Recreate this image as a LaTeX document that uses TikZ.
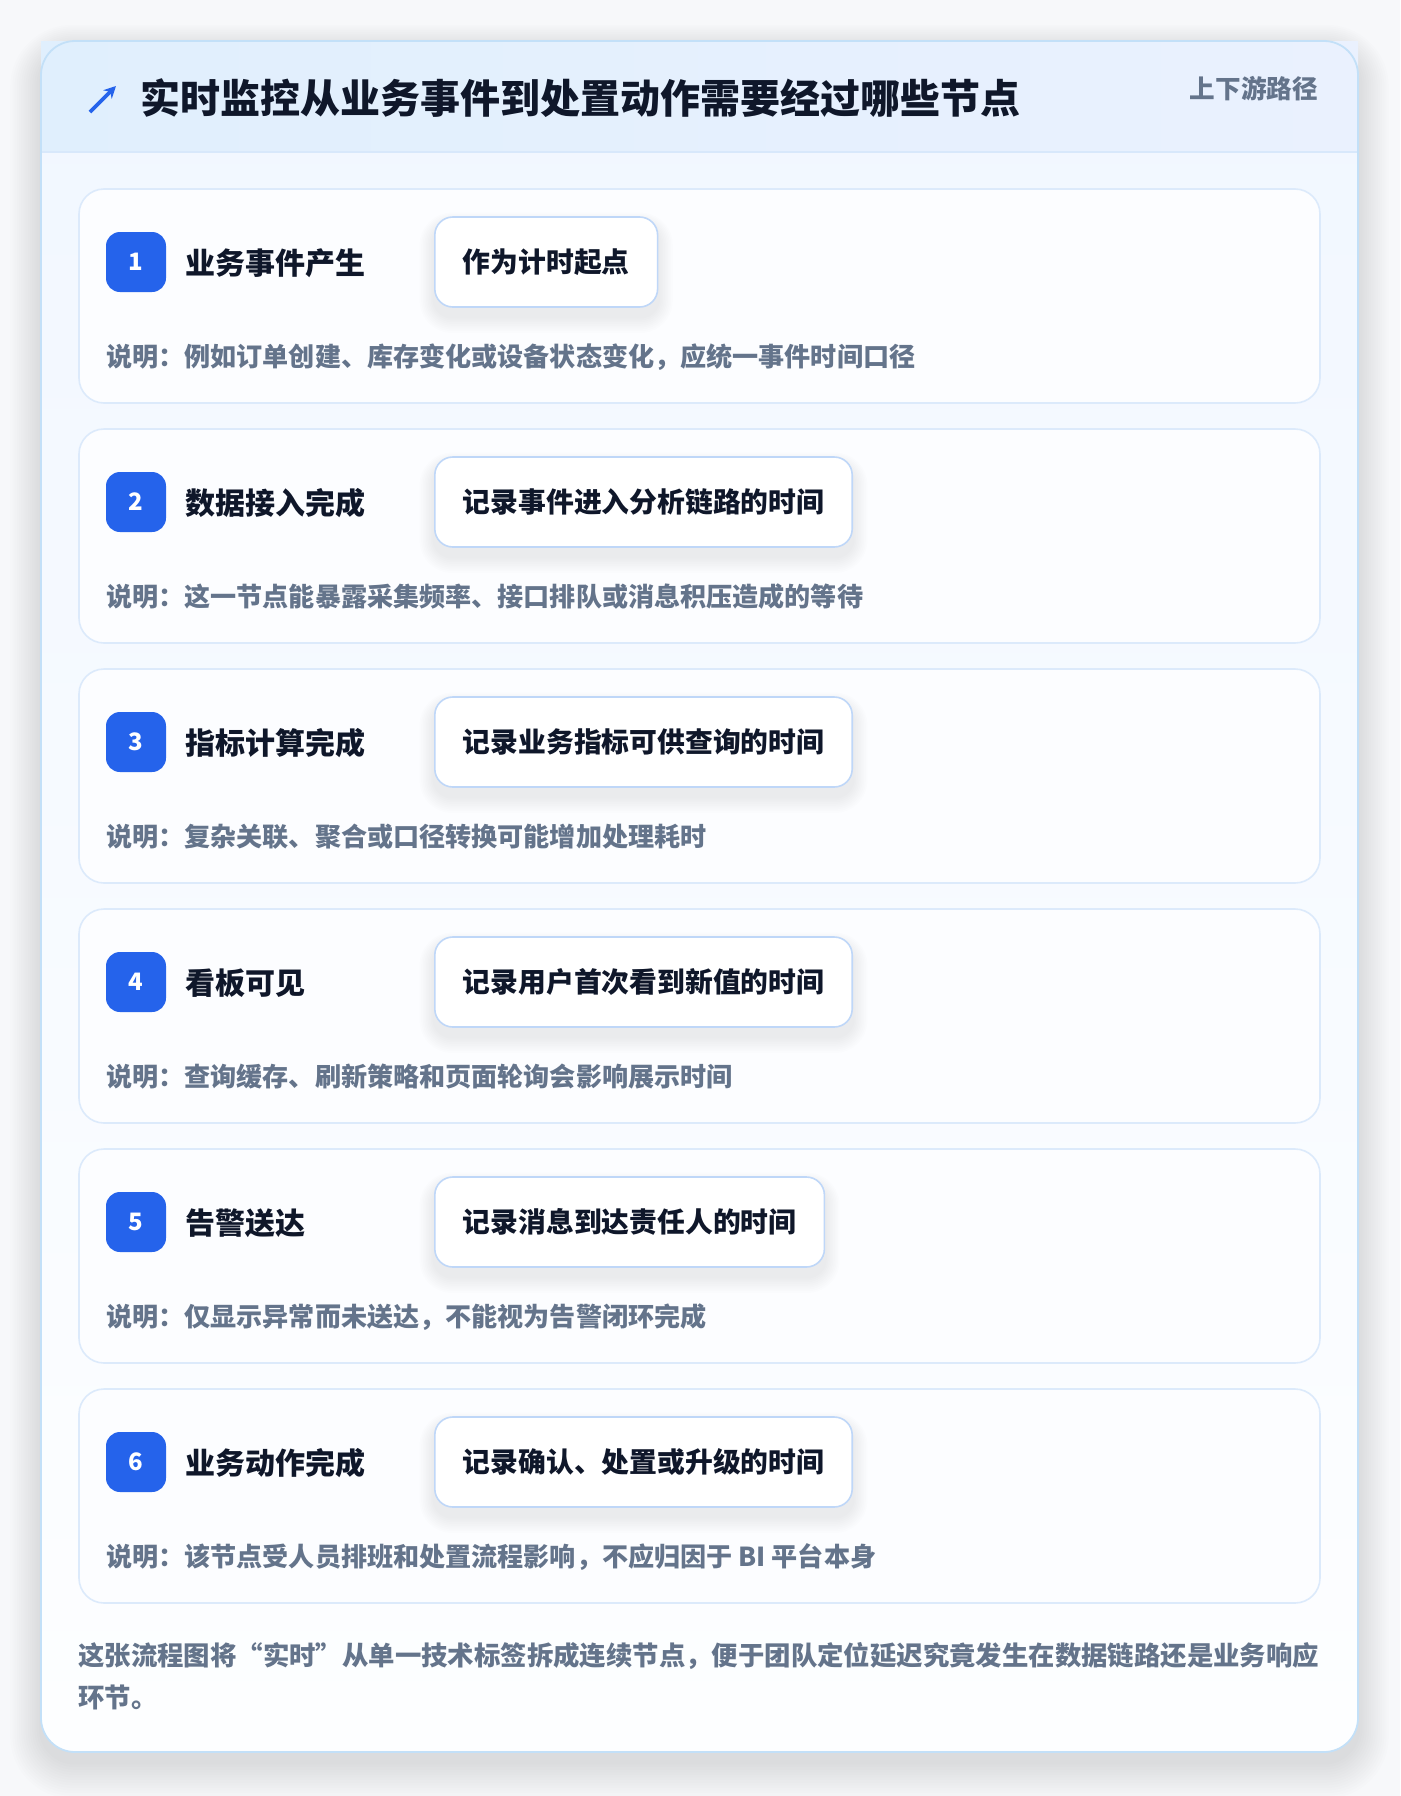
\documentclass[tikz,border=0pt]{standalone}
\usepackage{fontspec}
\setmainfont{Noto Sans CJK SC}
\usetikzlibrary{calc,arrows.meta}
\definecolor{pagebg}{HTML}{F7F8FA}
\definecolor{ink}{HTML}{0F172A}
\definecolor{slate}{HTML}{64748B}
\definecolor{brand}{HTML}{2563EB}
\definecolor{frameline}{HTML}{C3E0F8}
\definecolor{headL}{HTML}{E0EFFD}
\definecolor{headR}{HTML}{EAF1FE}
\definecolor{headline}{HTML}{D8E8FB}
\definecolor{bodyT}{HTML}{F1F7FF}
\definecolor{bodyB}{HTML}{FDFEFF}
\definecolor{cardline}{HTML}{DCEAFB}
\definecolor{cardfill}{HTML}{FCFDFF}
\definecolor{boxline}{HTML}{BFD7F8}
\pgfdeclarelayer{back}
\pgfdeclarelayer{cards}
\pgfdeclarelayer{shadow}
\pgfsetlayers{back,cards,shadow,main}
\tikzset{
  fs/.style={font=\fontsize{#1}{#1}\selectfont\bfseries},
  txt/.style={inner sep=0pt, text depth=0pt, anchor=west},
  stepcard/.style={draw=cardline, line width=1.6pt, fill=cardfill, rounded corners=25pt,
    minimum width=1241pt, minimum height=214pt, inner sep=0pt},
  badgebox/.style={fill=brand, rounded corners=14pt, minimum width=60pt, minimum height=60pt,
    inner sep=0pt, text=white, fs=24},
  steptitle/.style={txt, text=ink, fs=30, text height=22.8pt},
  pillbox/.style={draw=boxline, line width=1.6pt, fill=white, rounded corners=18pt,
    minimum height=90pt, inner xsep=28pt, inner ysep=0pt, text height=21.3pt, text depth=0pt,
    anchor=west, text=ink, fs=27.8},
  desctext/.style={txt, text=slate, fs=26.1, text height=19.8pt},
  foottext/.style={txt, text=slate, fs=26.4, text height=20pt},
}
\begin{document}
\begin{tikzpicture}[x=1pt,y=-1pt]
\useasboundingbox (0,0) rectangle (1400,1796);
\begin{pgfonlayer}{back}
\fill[pagebg] (0,0) rectangle (1400,1796);
% soft shadow of the main card
\foreach \i in {1,...,14}{
  \pgfmathsetmacro\rr{34+\i*2}
  \fill[black,opacity=0.006,rounded corners=\rr pt] (41-\i*2.2,50-\i*1.8) rectangle (1358+\i*2.2,1762+\i*2.6);
}
% body of main card
\shade[top color=bodyT,bottom color=bodyB,rounded corners=34pt] (41,41) rectangle (1358,1752);
% header band
\shade[left color=headL,right color=headR] (41,41) rectangle (1358,152);
\draw[headline,line width=1.6pt] (42,152) -- (1357,152);
\draw[frameline,line width=1.8pt,rounded corners=34pt] (41,41) rectangle (1358,1752);
\end{pgfonlayer}

% header
\coordinate (arrS) at (90,112);
\coordinate (arrE) at (116,86);
\draw[brand,line width=3.6pt,-{Stealth[length=12pt,width=12pt]}] (arrS) -- (arrE);
\node[txt,text=ink,fs=40,text height=30.4pt] (title) at (140,98) {实时监控从业务事件到处置动作需要经过哪些节点};
\node[txt,anchor=east,text=slate,fs=25.6,text height=19.5pt] (tag) at (1318,89) {上下游路径};

% steps
\foreach \n/\t/\b/\d [count=\k from 0] in {
  1/业务事件产生/作为计时起点/说明：例如订单创建、库存变化或设备状态变化，应统一事件时间口径,
  2/数据接入完成/记录事件进入分析链路的时间/说明：这一节点能暴露采集频率、接口排队或消息积压造成的等待,
  3/指标计算完成/记录业务指标可供查询的时间/说明：复杂关联、聚合或口径转换可能增加处理耗时,
  4/看板可见/记录用户首次看到新值的时间/说明：查询缓存、刷新策略和页面轮询会影响展示时间,
  5/告警送达/记录消息到达责任人的时间/说明：仅显示异常而未送达，不能视为告警闭环完成,
  6/业务动作完成/记录确认、处置或升级的时间/说明：该节点受人员排班和处置流程影响，不应归因于 BI 平台本身}{
  \pgfmathsetmacro\top{189+240*\k}
  \begin{pgfonlayer}{cards}
    \node[stepcard] (card\n) at (699.5,\top+107) {};
  \end{pgfonlayer}
  \node[badgebox] (badge\n) at (136,\top+73) {\n};
  \node[steptitle] (title\n) at (185,\top+74) {\t};
  \node[pillbox] (box\n) at (434,\top+73) {\b};
  \begin{pgfonlayer}{shadow}
    \foreach \j in {1,...,9}{
      \pgfmathsetmacro\rj{18+\j*1.6}
      \fill[black,opacity=0.007,rounded corners=\rj pt]
        ($(box\n.north west)+(-\j*1.6,-\j*1.4+9)$) rectangle ($(box\n.south east)+(\j*1.6,\j*1.8+9)$);
    }
  \end{pgfonlayer}
  \node[desctext] (desc\n) at (106,\top+168) {\d};
}

% footer
\node[foottext] (foot1) at (78,1655) {这张流程图将“实时”从单一技术标签拆成连续节点，便于团队定位延迟究竟发生在数据链路还是业务响应};
\node[foottext] (foot2) at (78,1697) {环节。};
\end{tikzpicture}
\end{document}
